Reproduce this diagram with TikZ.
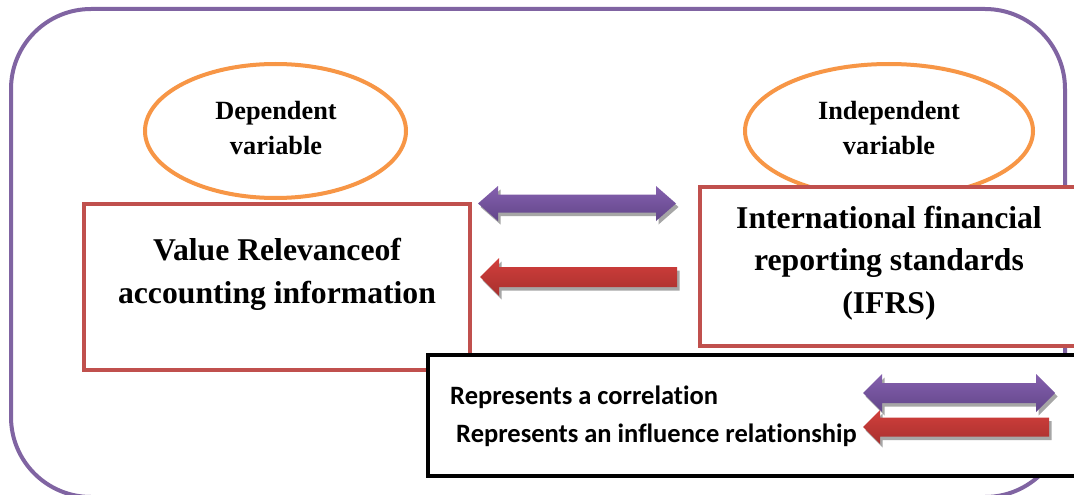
\documentclass[tikz,border=0pt]{standalone}
\usepackage{fontspec}
\setmainfont{Liberation Serif}
\newfontfamily\legendfont[Ligatures=NoCommon]{Carlito}
\definecolor{outerpurple}{HTML}{8064A2}
\definecolor{ellorange}{HTML}{F79646}
\definecolor{boxred}{HTML}{C0504D}
\definecolor{arrpurpleT}{HTML}{8560AE}
\definecolor{arrpurpleB}{HTML}{62468A}
\definecolor{arrredT}{HTML}{D23F3C}
\definecolor{arrredB}{HTML}{A8302E}
\definecolor{shadowgray}{HTML}{A6A6A6}
% double arrow: #1 x-left #2 x-right #3 y-centre #4 head half-height #5 shaft half-height #6 head length #7 top colour #8 bottom colour
\newcommand\myDArrow[8]{%
  \fill[shadowgray, shift={(2.5,3.5)}] (#1,#3) -- (#1+#6,#3-#4) -- (#1+#6,#3-#5) -- (#2-#6,#3-#5) -- (#2-#6,#3-#4) -- (#2,#3) -- (#2-#6,#3+#4) -- (#2-#6,#3+#5) -- (#1+#6,#3+#5) -- (#1+#6,#3+#4) -- cycle;
  \shade[top color=#7, bottom color=#8] (#1,#3) -- (#1+#6,#3-#4) -- (#1+#6,#3-#5) -- (#2-#6,#3-#5) -- (#2-#6,#3-#4) -- (#2,#3) -- (#2-#6,#3+#4) -- (#2-#6,#3+#5) -- (#1+#6,#3+#5) -- (#1+#6,#3+#4) -- cycle;
}
% left-pointing arrow with flat right end
\newcommand\myLArrow[8]{%
  \fill[shadowgray, shift={(2.5,3.5)}] (#1,#3) -- (#1+#6,#3-#4) -- (#1+#6,#3-#5) -- (#2,#3-#5) -- (#2,#3+#5) -- (#1+#6,#3+#5) -- (#1+#6,#3+#4) -- cycle;
  \shade[top color=#7, bottom color=#8] (#1,#3) -- (#1+#6,#3-#4) -- (#1+#6,#3-#5) -- (#2,#3-#5) -- (#2,#3+#5) -- (#1+#6,#3+#5) -- (#1+#6,#3+#4) -- cycle;
}
\tikzset{
  varell/.style={draw=ellorange, line width=4pt, ellipse, inner sep=0pt},
  redbox/.style={draw=boxred, line width=4pt, fill=white, rectangle, inner sep=0pt},
  legbox/.style={draw=black, line width=4.5pt, fill=white, rectangle, inner sep=0pt},
  vartext/.style={font=\fontsize{26.3}{35}\selectfont\bfseries, align=center, inner sep=0pt, anchor=base},
  boxtext/.style={font=\fontsize{31.7}{43}\selectfont\bfseries, align=center, inner sep=0pt, anchor=base},
  legtext/.style={font=\legendfont\fontsize{26.5}{32}\selectfont\bfseries, inner sep=0pt, anchor=base west},
}
\usetikzlibrary{shapes.geometric}
\begin{document}
\begin{tikzpicture}[x=1pt, y=-1pt]
\clip (0,0) rectangle (1074,495);
\fill[white] (0,0) rectangle (1074,495);
% outer frame
\draw[outerpurple, line width=4pt, rounded corners=80pt] (11,9) rectangle (1065,497);
% ellipses
\node[varell, minimum width=261pt, minimum height=134pt] (depell) at (275.5,131) {};
\node[varell, minimum width=288pt, minimum height=134pt] (indell) at (889,131) {};
\node[vartext] (deptxt) at (276,154) {Dependent\\variable};
\node[vartext] (indtxt) at (889,154) {Independent\\variable};
% boxes
\node[redbox, minimum width=386pt, minimum height=166.5pt] (vrbox) at (276.5,287) {};
\node[redbox, minimum width=390pt, minimum height=158.5pt] (ifrsbox) at (895,266.25) {};
\node[boxtext] (vrtxt) at (277,303) {Value Relevanceof\\accounting information};
\node[boxtext, font=\fontsize{31.7}{42.5}\selectfont\bfseries] (ifrstxt) at (889,313) {International financial\\reporting standards\\(IFRS)};
% middle arrows
\myDArrow{478}{676}{203.5}{17.5}{9}{20}{arrpurpleT}{arrpurpleB}
\myLArrow{480}{677}{277}{19}{10}{19}{arrredT}{arrredB}
% legend
\node[legbox, minimum width=662pt, minimum height=121pt] (legend) at (759,415.5) {};
\node[legtext] (leg1) at (450,404) {Represents a correlation};
\node[legtext] (leg2) at (456,442) {Represents an influence relationship};
\myDArrow{863}{1055}{393}{19}{10}{19}{arrpurpleT}{arrpurpleB}
\myLArrow{863}{1049}{427}{17}{9.5}{17}{arrredT}{arrredB}
\end{tikzpicture}
\end{document}
